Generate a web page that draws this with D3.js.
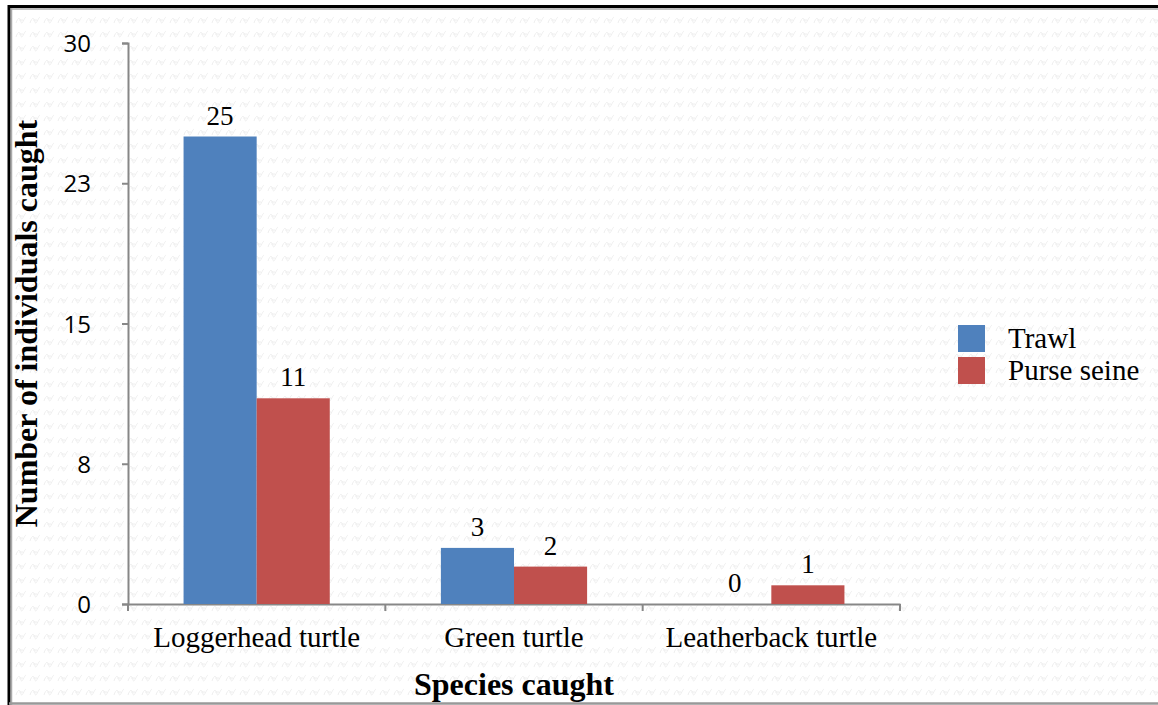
<!DOCTYPE html>
<html>
<head>
<meta charset="utf-8">
<script src="https://cdn.jsdelivr.net/npm/d3@7"></script>
<style>
  body { margin: 0; background: #fff; }
  svg { display: block; }
</style>
</head>
<body>
<div id="chart"></div>
<script>
var categories = ["Loggerhead turtle", "Green turtle", "Leatherback turtle"];
var seriesNames = ["Trawl", "Purse seine"];
var trawl = [25, 3, 0];
var purseSeine = [11, 2, 1];
var yTickValues = [0, 7.5, 15, 22.5, 30];
var yTickLabels = ["0", "8", "15", "23", "30"];
var colors = ["#4F81BD", "#C0504D"];

var W = 1158, H = 705;
var margin = {top: 43, left: 128, bottom: 101, right: 258};
var serif = "'Liberation Serif', 'Times New Roman', serif";

var svg = d3.select("#chart").append("svg")
    .attr("width", W)
    .attr("height", H);

// faint background texture
var defs = svg.append("defs");
var pat = defs.append("pattern")
    .attr("id", "tex")
    .attr("width", 14).attr("height", 14)
    .attr("patternUnits", "userSpaceOnUse");
pat.append("path")
    .attr("d", "M2,9 C4,3 6,3 7,8 C8,12 10,4 12,3 M5,6 L9,6")
    .attr("fill", "none")
    .attr("stroke", "#eeeeee")
    .attr("stroke-width", 1);
svg.append("rect").attr("width", W).attr("height", H).attr("fill", "#fff");
svg.append("rect").attr("x", 10).attr("y", 8).attr("width", W - 10).attr("height", H - 10)
    .attr("fill", "url(#tex)");

// frame
svg.append("line").attr("x1", 9).attr("x2", 9).attr("y1", 5).attr("y2", H)
    .attr("stroke", "#000").attr("stroke-width", 3);
svg.append("line").attr("x1", 8).attr("x2", W).attr("y1", 6.5).attr("y2", 6.5)
    .attr("stroke", "#000").attr("stroke-width", 3);
svg.append("line").attr("x1", 11.5).attr("x2", 11.5).attr("y1", 8).attr("y2", H)
    .attr("stroke", "#aaa").attr("stroke-width", 1.5);
svg.append("line").attr("x1", 11).attr("x2", W).attr("y1", 9).attr("y2", 9)
    .attr("stroke", "#aaa").attr("stroke-width", 1.5);
svg.append("line").attr("x1", 9).attr("x2", W).attr("y1", 703.5).attr("y2", 703.5)
    .attr("stroke", "#999").attr("stroke-width", 2.5);

var x0 = d3.scaleBand()
    .domain(categories)
    .range([margin.left, W - margin.right])
    .padding(0);
var x1 = d3.scaleBand()
    .domain(seriesNames)
    .range([0, x0.bandwidth()])
    .paddingInner(0)
    .paddingOuter(0.76);
var y = d3.scaleLinear()
    .domain([0, 30])
    .range([H - margin.bottom, margin.top]);

var data = categories.map(function(c, i) {
  return {cat: c, values: [
    {name: seriesNames[0], v: trawl[i], color: colors[0]},
    {name: seriesNames[1], v: purseSeine[i], color: colors[1]}
  ]};
});

// axes
var yAxis = svg.append("g")
    .attr("transform", "translate(" + margin.left + ",0)")
    .call(d3.axisLeft(y).tickValues(yTickValues).tickSize(6)
      .tickFormat(function(d, i) { return yTickLabels[i]; }));
yAxis.select(".domain").attr("stroke", "#878787").attr("stroke-width", 2);
yAxis.selectAll(".tick line").attr("stroke", "#878787").attr("stroke-width", 2);
yAxis.selectAll(".tick text")
    .attr("x", -37)
    .attr("dy", "0.36em")
    .style("font-family", "'Open Sans', sans-serif")
    .style("font-size", "24px")
    .attr("fill", "#000");

var xAxis = svg.append("g")
    .attr("transform", "translate(0," + y(0) + ")")
    .call(d3.axisBottom(x0).tickSize(0).tickSizeOuter(0));
xAxis.select(".domain").attr("stroke", "#878787").attr("stroke-width", 2);
xAxis.selectAll(".tick text")
    .attr("dy", 0)
    .attr("y", 43)
    .style("font-family", serif)
    .style("font-size", "29px")
    .attr("fill", "#000");
// category separators
var seps = categories.map(function(c) { return x0(c); }).concat([x0.range()[1]]);
svg.append("g").selectAll("line")
    .data(seps)
  .enter().append("line")
    .attr("x1", function(d) { return d; })
    .attr("x2", function(d) { return d; })
    .attr("y1", y(0))
    .attr("y2", y(0) + 7)
    .attr("stroke", "#878787")
    .attr("stroke-width", 2);

// bars
var groups = svg.selectAll(".grp")
    .data(data)
  .enter().append("g")
    .attr("class", "grp")
    .attr("transform", function(d) { return "translate(" + x0(d.cat) + ",0)"; });

groups.selectAll("rect")
    .data(function(d) { return d.values; })
  .enter().append("rect")
    .attr("x", function(d) { return x1(d.name); })
    .attr("width", x1.bandwidth())
    .attr("y", function(d) { return y(d.v); })
    .attr("height", function(d) { return y(0) - y(d.v); })
    .attr("fill", function(d) { return d.color; });

groups.selectAll("text")
    .data(function(d) { return d.values; })
  .enter().append("text")
    .attr("x", function(d) { return x1(d.name) + x1.bandwidth() / 2; })
    .attr("y", function(d) { return y(d.v) - 12; })
    .attr("text-anchor", "middle")
    .style("font-family", serif)
    .style("font-size", "27px")
    .text(function(d) { return d.v; });

// axis titles
svg.append("text")
    .attr("transform", "translate(37," + (y(15)) + ") rotate(-90)")
    .attr("text-anchor", "middle")
    .style("font-family", serif)
    .style("font-weight", "bold")
    .style("font-size", "32px")
    .text("Number of individuals caught");

svg.append("text")
    .attr("x", (x0.range()[0] + x0.range()[1]) / 2)
    .attr("y", 695)
    .attr("text-anchor", "middle")
    .style("font-family", serif)
    .style("font-weight", "bold")
    .style("font-size", "32px")
    .text("Species caught");

// legend
var legend = svg.append("g").attr("transform", "translate(958,325)");
var li = legend.selectAll("g")
    .data(seriesNames)
  .enter().append("g")
    .attr("transform", function(d, i) { return "translate(0," + (i * 32) + ")"; });
li.append("rect")
    .attr("width", 27).attr("height", 27)
    .attr("fill", function(d, i) { return colors[i]; });
li.append("text")
    .attr("x", 50)
    .attr("y", 23)
    .style("font-family", serif)
    .style("font-size", "29px")
    .text(function(d) { return d; });
</script>
</body>
</html>
